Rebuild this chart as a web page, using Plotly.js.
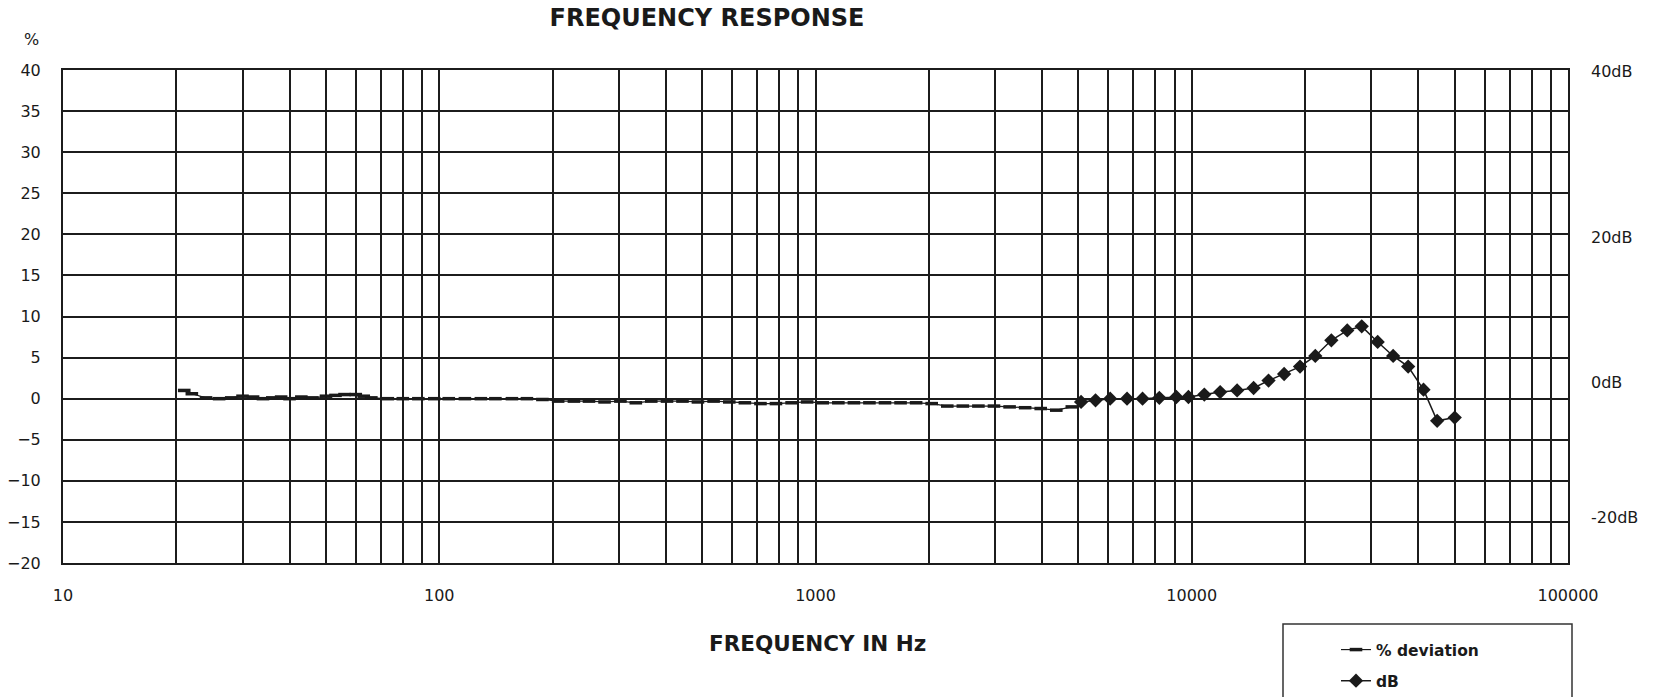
<!DOCTYPE html>
<html><head><meta charset="utf-8">
<script src="https://cdn.plot.ly/plotly-3.0.1.min.js"></script>
<style>html,body{margin:0;padding:0;background:#fff}#chart{width:1660px;height:697px}</style>
</head><body><div id="chart"></div>
<script>
// % deviation series (frequency in Hz, value in %)
const pctFreq = [21, 22, 24, 26, 28, 30, 32, 34, 36, 38, 40, 43, 46, 50, 53, 56, 60, 63, 66,
  73, 80, 88, 97, 106, 117, 129, 141, 156, 171, 188, 207, 228, 250, 275, 303, 333, 366, 403,
  443, 487, 536, 590, 649, 714, 785, 864, 950, 1045, 1150, 1265, 1391, 1530, 1683, 1851, 2036,
  2240, 2464, 2710, 2981, 3280, 3607, 3968, 4365, 4800];
const pctValues = [1.0, 0.6, 0.1, 0.0, 0.1, 0.3, 0.2, 0.0, 0.1, 0.2, 0.0, 0.2, 0.1, 0.3, 0.4, 0.5, 0.5, 0.3, 0.1,
  0.0, 0.0, 0.0, 0.0, 0.0, 0.0, 0.0, 0.0, 0.0, 0.0, -0.1, -0.3, -0.3, -0.3, -0.4, -0.3, -0.5, -0.3, -0.3,
  -0.3, -0.4, -0.3, -0.4, -0.5, -0.6, -0.6, -0.5, -0.4, -0.5, -0.5, -0.5, -0.5, -0.5, -0.5, -0.5, -0.6,
  -0.9, -0.9, -0.9, -0.9, -1.0, -1.1, -1.2, -1.4, -1.0];
// dB series
const dbFreq = [5080, 5550, 6070, 6730, 7400, 8200, 9100, 9800, 10800, 11900, 13200, 14600, 16000,
  17600, 19400, 21300, 23500, 25900, 28300, 31200, 34300, 37600, 41300, 44900, 50000];
const dbValues = [-0.4, -0.2, 0.0, 0.0, 0.0, 0.1, 0.2, 0.2, 0.5, 0.8, 1.0, 1.3, 2.2,
  3.0, 3.9, 5.2, 7.1, 8.3, 8.8, 6.9, 5.2, 3.9, 1.1, -2.7, -2.3];

// tick labels
const xTickVals = [10, 100, 1000, 10000, 100000];
const xTickText = ['10', '100', '1000', '10000', '100000'];
const pctTickVals = [-20, -15, -10, -5, 0, 5, 10, 15, 20, 25, 30, 35, 40];
const dbTickText = ['40dB', '20dB', '0dB', '-20dB'];
const dbTickAt = [39.8, 19.6, 2.0, -14.5];

const FONT = 'DejaVu Sans, sans-serif';
const INK = '#1a1a1a';
const GRID = '#1c1c1c';

const traces = [
  {x: pctFreq, y: pctValues, name: '% deviation', type: 'scatter', mode: 'lines+markers',
   line: {color: INK, width: 1.2},
   marker: {symbol: 'line-ew-open', size: 9, line: {color: INK, width: 3.5}},
   legendgroup: 'a'},
  {x: dbFreq, y: dbValues, name: 'dB', type: 'scatter', mode: 'lines+markers', yaxis: 'y2',
   line: {color: INK, width: 1.5},
   marker: {symbol: 'diamond', size: 11, color: INK},
   legendgroup: 'b'}
];

const W = 1660, H = 697, L = 63, R = 92, T = 70, B = 134;
const PW = W - L - R, PH = H - T - B;
const px = v => (v - L) / PW;          // pixel x -> paper
const py = v => (H - B - v) / PH;      // pixel y -> paper

const layout = {
  width: W, height: H,
  margin: {l: L, r: R, t: T, b: B},
  paper_bgcolor: '#fff', plot_bgcolor: '#fff',
  font: {family: FONT, color: INK, size: 16},
  title: {text: 'FREQUENCY RESPONSE', font: {family: FONT, size: 24, weight: 700, color: INK},
          xref: 'container', x: 707 / W, xanchor: 'center',
          yref: 'container', y: 1 - 18 / H, yanchor: 'middle'},
  xaxis: {type: 'log', range: [1, 5], tickmode: 'array', tickvals: xTickVals, ticktext: xTickText,
          showgrid: true, gridcolor: GRID, gridwidth: 2,
          minor: {dtick: 'D1', showgrid: true, gridcolor: GRID, gridwidth: 2, ticks: ''},
          showline: true, linecolor: GRID, linewidth: 2, mirror: true, ticks: '',
          ticklabelstandoff: 17, tickfont: {family: FONT, size: 16, color: INK},
          automargin: false},
  yaxis: {range: [-20, 40], tickmode: 'array', tickvals: pctTickVals,
          showgrid: true, gridcolor: GRID, gridwidth: 2, zeroline: false,
          showline: true, linecolor: GRID, linewidth: 2, mirror: true, ticks: '',
          ticklabelstandoff: 17, tickfont: {family: FONT, size: 16, color: INK}, automargin: false},
  yaxis2: {overlaying: 'y', side: 'right', range: [-20, 40], tickmode: 'array',
           tickvals: dbTickAt, ticktext: dbTickText, showgrid: false, zeroline: false,
           showline: false, ticks: '', ticklabelstandoff: 22,
           tickfont: {family: FONT, size: 16, color: INK}, automargin: false},
  showlegend: true,
  legend: {xref: 'paper', x: px(1336), xanchor: 'left',
           yref: 'container', y: 1 - 633 / H, yanchor: 'top',
           bgcolor: 'rgba(0,0,0,0)', borderwidth: 0, tracegroupgap: 8,
           font: {family: FONT, size: 15.5, weight: 700, color: INK}},
  shapes: [{type: 'rect', xref: 'paper', yref: 'paper',
            x0: px(1283), x1: px(1572), y0: py(710), y1: py(624),
            line: {color: '#333', width: 1.5}, fillcolor: 'rgba(0,0,0,0)'}],
  annotations: [
    {text: '%', xref: 'paper', yref: 'paper', x: px(31), y: py(39),
     xanchor: 'center', yanchor: 'middle', showarrow: false,
     font: {family: FONT, size: 16, color: INK}},
    {text: 'FREQUENCY IN Hz', xref: 'paper', yref: 'paper', x: px(817), y: py(643),
     xanchor: 'center', yanchor: 'middle', showarrow: false,
     font: {family: FONT, size: 21.5, weight: 700, color: INK}}
  ]
};

Plotly.newPlot('chart', traces, layout, {displayModeBar: false, staticPlot: true});
</script>
</body></html>
